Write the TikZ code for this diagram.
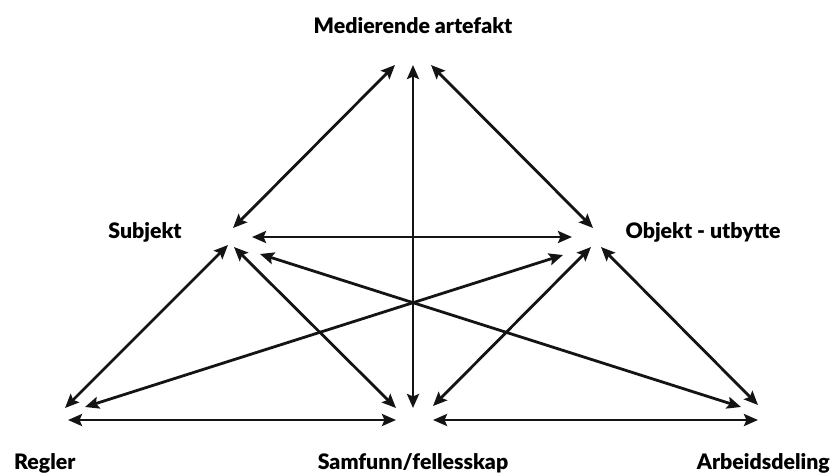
\documentclass[tikz,border=0pt]{standalone}
\usepackage{fontspec}
\setmainfont{Lato}[BoldFont={Lato Black}]
\usetikzlibrary{arrows.meta}
\begin{document}
\begin{tikzpicture}[x=1pt,y=-1pt,
  lbl/.style={font=\fontsize{21.3}{23}\selectfont\bfseries, inner sep=0pt, text=black},
  link/.style={{Stealth[length=14pt,width=12pt,inset=2.5pt]}-{Stealth[length=14pt,width=12pt,inset=2.5pt]},
    line width=2.8pt, draw=black!92}]
\useasboundingbox (0,0) rectangle (830,472);

% corner labels
\node[lbl, anchor=base] (med) at (413,33) {Medierende artefakt};
\node[lbl, anchor=base] (subj) at (145,238) {Subjekt};
\node[lbl, anchor=base] (obj) at (703,238) {Objekt - utbytte};
\node[lbl, anchor=base west] (reg) at (14,469) {Regler};
\node[lbl, anchor=base] (sam) at (413,469) {Samfunn/fellesskap};
\node[lbl, anchor=base east] (arb) at (830,469) {Arbeidsdeling};

% arrow end points around each corner
\coordinate (m-l) at (395,65);
\coordinate (m-c) at (413,65);
\coordinate (m-r) at (431,65);

\coordinate (s-t) at (233,228);
\coordinate (s-h) at (252,237);
\coordinate (s-l) at (228,245);
\coordinate (s-r) at (234,247);
\coordinate (s-x) at (260,254);

\coordinate (o-t) at (593,228);
\coordinate (o-h) at (572,237);
\coordinate (o-x) at (563,255);
\coordinate (o-l) at (591,247);
\coordinate (o-r) at (601,247);

\coordinate (r-d) at (65,408);
\coordinate (r-x) at (85,407);
\coordinate (r-h) at (68,420);

\coordinate (f-l) at (396,408);
\coordinate (f-c) at (413,408);
\coordinate (f-r) at (433,406);
\coordinate (f-hl) at (396,420);
\coordinate (f-hr) at (433,420);

\coordinate (a-x) at (741,407);
\coordinate (a-d) at (758,405);
\coordinate (a-h) at (758,420);

% connections
\draw[link] (m-l) -- (s-t);
\draw[link] (m-c) -- (f-c);
\draw[link] (m-r) -- (o-t);
\draw[link] (s-h) -- (o-h);
\draw[link] (s-l) -- (r-d);
\draw[link] (s-r) -- (f-l);
\draw[link] (s-x) -- (a-x);
\draw[link] (r-x) -- (o-x);
\draw[link] (f-r) -- (o-l);
\draw[link] (o-r) -- (a-d);
\draw[link] (r-h) -- (f-hl);
\draw[link] (f-hr) -- (a-h);
\end{tikzpicture}
\end{document}
